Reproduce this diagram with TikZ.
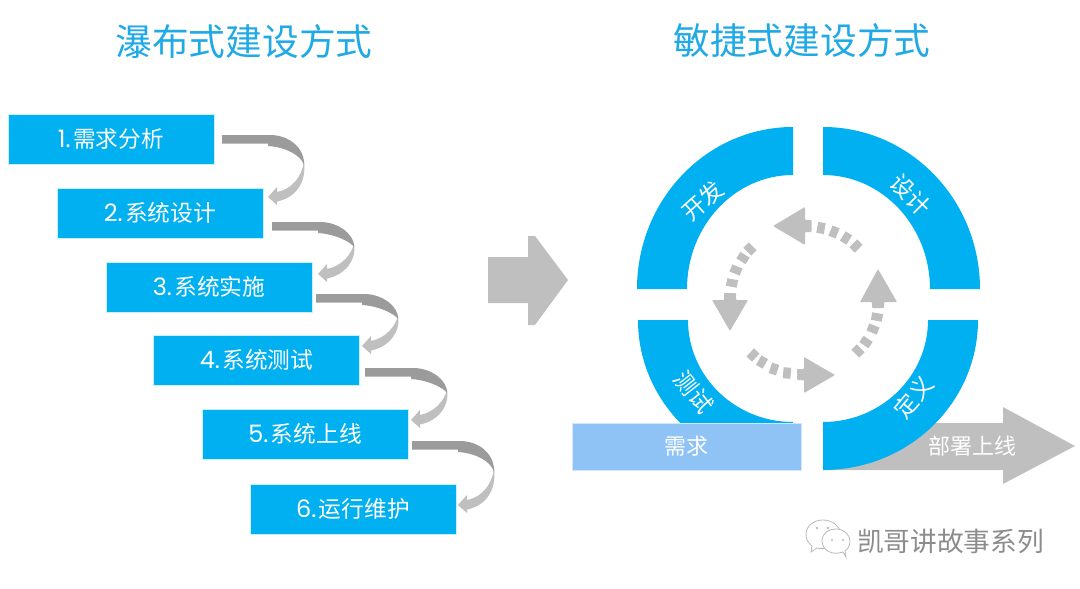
\documentclass[tikz,border=0pt]{standalone}
\usepackage{fontspec}
\setmainfont{Noto Sans CJK SC}
\newfontfamily\latinfont{Poppins}
\usetikzlibrary{calc}
\definecolor{mainblue}{HTML}{00B0F0}
\definecolor{lightblue}{HTML}{8FC3F5}
\definecolor{titleblue}{HTML}{1FA9E6}
\definecolor{softgray}{HTML}{BFBFBF}
\definecolor{darkgray}{HTML}{9B9B9B}
\definecolor{markgray}{HTML}{8C8C8C}
\tikzset{
  x=1pt,y=-1pt,
  titletext/.style={font=\fontsize{36.7}{40}\selectfont,text=titleblue,inner sep=0pt},
  stepbox/.style={fill=mainblue,draw=white!80!mainblue,line width=0.4pt,minimum width=206pt,minimum height=50pt,inner sep=0pt,text=white,font=\fontsize{22.7}{26}\selectfont},
  ringtext/.style={text=white,font=\fontsize{23}{26}\selectfont,inner sep=0pt},
}
\newcommand{\stepno}[1]{{\latinfont\fontsize{24}{26}\selectfont #1}\kern2.5pt}
% curved connector: start x, start y, height to tip
\newcommand{\curvedarrow}[3]{%
  \begin{scope}[shift={(#1,#2)}]
    \pgfmathsetmacro{\midy}{#3/2-1}
    \pgfmathsetmacro{\tipy}{#3}
    \fill[softgray] (82,\midy-4) .. controls (80,\tipy-20) and (70,\tipy-8) .. (55,\tipy-5)
      -- (55,\tipy-10) -- (46,\tipy) -- (55,\tipy+8) -- (55,\tipy+4.5)
      .. controls (73,\tipy+1) and (85,\tipy-14) .. (82,\midy-4) -- cycle;
    \fill[darkgray] (0,0) -- (48,0) .. controls (68,0) and (83,14) .. (82,\midy)
      .. controls (79,20) and (63,12) .. (46,11) -- (46,8.5) -- (0,8.5) -- cycle;
  \end{scope}}
% block arc: centre, two angles, outer radii, inner radii
\newcommand{\quadarc}[8]{%
  \fill[mainblue] ($(#1,#2)+(#3:#5 and #6)$) arc[start angle=#3,end angle=#4,x radius=#5,y radius=#6]
    -- ($(#1,#2)+(#4:#7 and #8)$) arc[start angle=#4,end angle=#3,x radius=#7,y radius=#8] -- cycle;}
% one square of a dashed arc
\newcommand{\dashbit}[3]{\fill[softgray,shift={(#1,#2)},rotate=-#3] (-3.8,-5.5) rectangle (3.8,5.5);}
\begin{document}
\begin{tikzpicture}
\useasboundingbox (0,0) rectangle (1080,589);
% titles
\node[titletext] (titleleft) at (244,41) {瀑布式建设方式};
\node[titletext] (titleright) at (802,41) {敏捷式建设方式};
% waterfall boxes
\node[stepbox] (s1) at (111,138.7) {\stepno{1.}需求分析};
\node[stepbox] (s2) at (160,212.7) {\stepno{2.}系统设计};
\node[stepbox] (s3) at (209,286.7) {\stepno{3.}系统实施};
\node[stepbox] (s4) at (256.5,359.7) {\stepno{4.}系统测试};
\node[stepbox] (s5) at (305,433.7) {\stepno{5.}系统上线};
\node[stepbox] (s6) at (353,508.7) {\stepno{6.}运行维护};
% curved connectors
\curvedarrow{222}{135}{62}
\curvedarrow{272}{222}{52}
\curvedarrow{316}{294}{52}
\curvedarrow{365}{368}{52}
\curvedarrow{412}{441}{64}
% central arrow
\fill[softgray] (488,257) -- (528,257) -- (528,236) -- (535,236) -- (568,280) -- (535,325) -- (528,325) -- (528,303) -- (488,303) -- cycle;
% deploy arrow
\fill[softgray] (823,423) -- (1003,423) -- (1003,407) -- (1075,446) -- (1003,484) -- (1003,470) -- (823,470) -- cycle;
\node[text=white,font=\fontsize{22}{26}\selectfont,inner sep=0pt] (deploy) at (972,446) {部署上线};
% ring
\quadarc{823}{289}{270}{360}{157}{162}{107}{114}
\quadarc{793}{289}{180}{270}{156}{162}{106}{114}
\quadarc{793}{320}{90}{180}{155}{150}{105}{102}
\quadarc{823}{320}{0}{90}{155}{150}{105}{102}
\node[ringtext,rotate=42] (dev) at (703,201) {开发};
\node[ringtext,rotate=-45] (design) at (911,195) {设计};
\node[ringtext,rotate=-52] (test) at (694,392) {测试};
\node[ringtext,rotate=50] (define) at (914,397) {定义};
% requirement bar
\node[fill=lightblue,draw=white!60!lightblue,line width=0.5pt,minimum width=229pt,minimum height=47pt,inner sep=0pt,text=white,font=\fontsize{22}{26}\selectfont] (req) at (686.5,446.5) {需求};
% inner cycle: top
\fill[softgray,rounded corners=0.8pt] (773,226) -- (805,207) -- (805,220) -- (811.5,220) -- (811.5,232) -- (805,232) -- (805,245) -- cycle;
\dashbit{821}{228}{10}\dashbit{834}{232}{22}\dashbit{846}{238}{32}\dashbit{856}{246}{45}
% inner cycle: left
\fill[softgray,rounded corners=0.8pt] (730,331) -- (712,300) -- (724,300) -- (724,293) -- (736,293) -- (736,300) -- (748,300) -- cycle;
\dashbit{732}{283}{100}\dashbit{736}{270}{112}\dashbit{743}{258}{122}\dashbit{750}{249}{135}
% inner cycle: bottom
\fill[softgray,rounded corners=0.8pt] (835,375) -- (804,357) -- (804,369) -- (797,369) -- (797,380) -- (804,380) -- (804,393) -- cycle;
\dashbit{787}{373}{5}\dashbit{774}{369}{18}\dashbit{762}{362}{30}\dashbit{753}{355}{42}
% inner cycle: right
\fill[softgray,rounded corners=0.8pt] (878,269) -- (860,302) -- (872,302) -- (872,308) -- (884,308) -- (884,302) -- (897,302) -- cycle;
\dashbit{877}{317}{-80}\dashbit{873}{329}{-68}\dashbit{866}{342}{-56}\dashbit{858}{351}{-45}
% watermark icon
\draw[markgray!60,line width=0.8pt,fill=white] (830,547) .. controls (825,549) and (820,549) .. (817,548) -- (811,552) -- (812,546) .. controls (808,543) and (806,539) .. (806,534) .. controls (806,526) and (814,520) .. (823,520) .. controls (832,520) and (840,526) .. (841,534) -- cycle;
\draw[markgray!60,line width=0.8pt,fill=white] (846,557) -- (843,552) .. controls (832,556) and (822,550) .. (822,541) .. controls (822,533) and (829,529) .. (836,529) .. controls (844,529) and (850,535) .. (850,541) .. controls (850,545) and (848,549) .. (845,551) -- cycle;
\fill[markgray!60] (817,528) circle (1.3) (828,528) circle (1.3) (832,540) circle (1.2) (843,540) circle (1.2);
\node[text=markgray,font=\fontsize{26.7}{30}\selectfont,inner sep=0pt] (mark) at (950.5,541) {凯哥讲故事系列};
\end{tikzpicture}
\end{document}
